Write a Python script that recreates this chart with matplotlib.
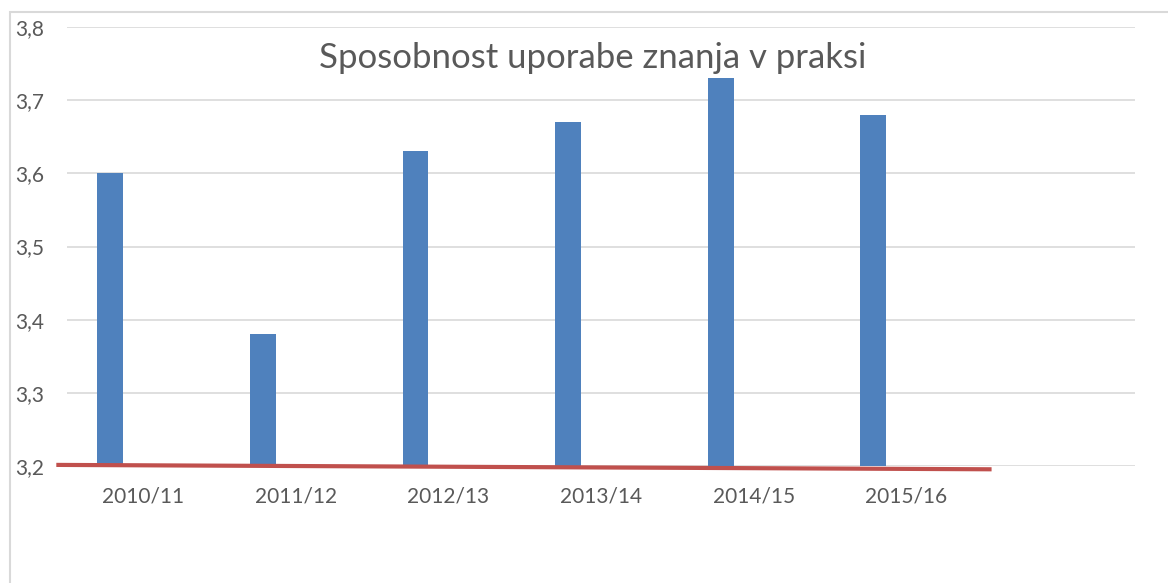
import matplotlib.pyplot as plt
from matplotlib.patches import Rectangle

years = ["2010/11", "2011/12", "2012/13", "2013/14", "2014/15", "2015/16"]
scores = [3.60, 3.38, 3.63, 3.67, 3.73, 3.68]
y_ticks = [3.2, 3.3, 3.4, 3.5, 3.6, 3.7, 3.8]
# hand-drawn red line over the base of the chart
red_line_x = [-0.57, 5.56]
red_line_y = [3.2015, 3.1955]

plt.rcParams['font.family'] = ['Lato', 'DejaVu Sans']
grey = '#595959'

fig = plt.figure(figsize=(11.68, 5.83), dpi=100)
fig.patches.append(Rectangle((10 / 1168, -0.1), 1.2, 1 - 12 / 583 + 0.1,
                             transform=fig.transFigure, fill=False,
                             edgecolor='#d9d9d9', lw=1.5))
ax = fig.add_axes((67 / 1168, 1 - 466 / 583, 1068 / 1168, 439 / 583))

x = range(len(years))
ax.bar([i - 0.216 for i in x], [s - 3.2 for s in scores], bottom=3.2,
       width=0.17, color='#4f81bd', zorder=2)
ax.plot(red_line_x, red_line_y, color='#c0504d', lw=3, zorder=3,
        clip_on=False, solid_capstyle='butt')

ax.set_xlim(-0.5, 6.5)
ax.set_ylim(3.2, 3.8)
ax.set_yticks(y_ticks)
ax.set_yticklabels([f"{v:.1f}".replace('.', ',') for v in y_ticks])
ax.set_xticks(list(x))
ax.set_xticklabels(years)
ax.tick_params(length=0, labelsize=15, labelcolor=grey)
ax.tick_params(axis='y', pad=16.5)
ax.tick_params(axis='x', pad=15)
ax.grid(axis='y', color='#d9d9d9', lw=1.2, zorder=0)
for s in ax.spines.values():
    s.set_visible(False)

fig.text(593 / 1168, 1 - 58 / 583, "Sposobnost uporabe znanja v praksi",
         ha='center', va='center', fontsize=25, color=grey)

fig.savefig('out.png', dpi=100)
